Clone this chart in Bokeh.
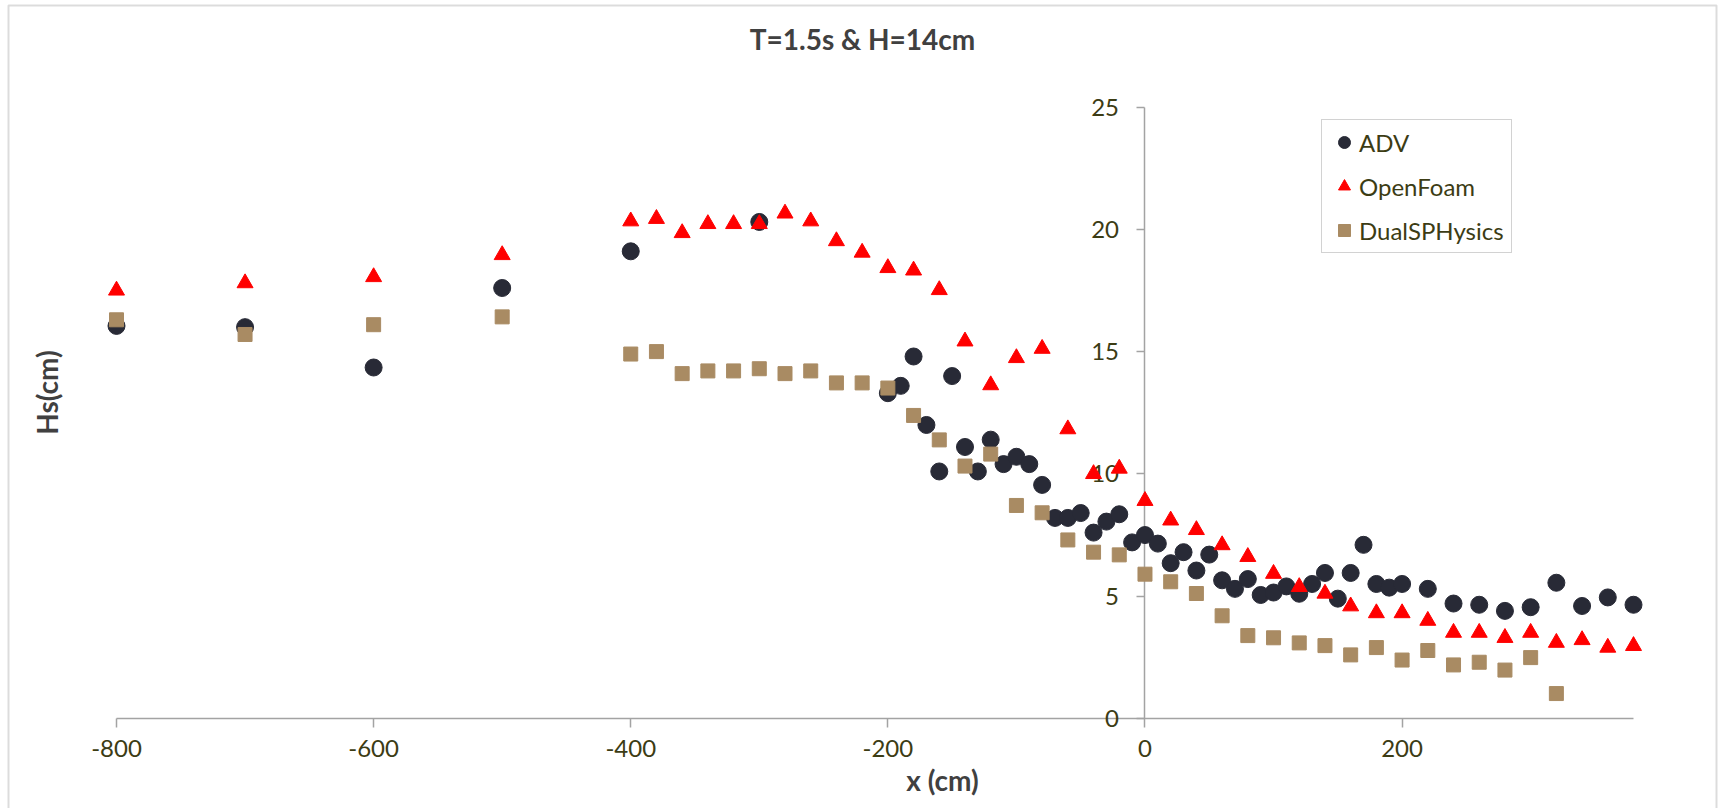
from bokeh.plotting import figure
from bokeh.models import (Range1d, FixedTicker, Legend, LegendItem, Label, BoxAnnotation,
                          LinearAxis, PrintfTickFormatter)
from bokeh.embed import file_html
from bokeh.resources import INLINE

# ---------------- data ----------------
adv_x = [-800, -700, -600, -500, -400, -300, -200, -190, -180, -170, -160, -150, -140, -130,
         -120, -110, -100, -90, -80, -70, -60, -50, -40, -30, -20, -10, 0, 10, 20, 30, 40,
         50, 60, 70, 80, 90, 100, 110, 120, 130, 140, 150, 160, 170, 180, 190, 200, 220,
         240, 260, 280, 300, 320, 340, 360, 380]
adv_y = [16.05, 16.0, 14.35, 17.6, 19.1, 20.3, 13.3, 13.6, 14.8, 12.0, 10.1, 14.0, 11.1, 10.1,
         11.4, 10.4, 10.7, 10.4, 9.55, 8.2, 8.2, 8.4, 7.6, 8.05, 8.35, 7.2, 7.5, 7.15, 6.35, 6.8, 6.05,
         6.7, 5.65, 5.3, 5.7, 5.05, 5.15, 5.4, 5.1, 5.5, 5.95, 4.9, 5.95, 7.1, 5.5, 5.35, 5.5, 5.3,
         4.7, 4.65, 4.4, 4.55, 5.55, 4.6, 4.95, 4.65]

of_x = [-800, -700, -600, -500, -400, -380, -360, -340, -320, -300, -280, -260, -240, -220,
        -200, -180, -160, -140, -120, -100, -80, -60, -40, -20, 0, 20, 40, 60, 80, 100, 120,
        140, 160, 180, 200, 220, 240, 260, 280, 300, 320, 340, 360, 380]
of_y = [17.5, 17.8, 18.05, 18.95, 20.33, 20.43, 19.85, 20.22, 20.22, 20.22, 20.65, 20.33, 19.52,
        19.05, 18.42, 18.32, 17.52, 15.42, 13.63, 14.74, 15.12, 11.83, 10.0, 10.22, 8.9, 8.1,
        7.71, 7.09, 6.61, 5.92, 5.38, 5.11, 4.59, 4.31, 4.31, 4.0, 3.51, 3.51, 3.3, 3.51, 3.1,
        3.21, 2.9, 2.97]

sph_x = [-800, -700, -600, -500, -400, -380, -360, -340, -320, -300, -280, -260, -240, -220,
         -200, -180, -160, -140, -120, -100, -80, -60, -40, -20, 0, 20, 40, 60, 80, 100, 120,
         140, 160, 180, 200, 220, 240, 260, 280, 300, 320]
sph_y = [16.3, 15.7, 16.1, 16.42, 14.9, 15.0, 14.1, 14.21, 14.21, 14.3, 14.1, 14.21, 13.72, 13.72,
         13.51, 12.39, 11.39, 10.32, 10.81, 8.71, 8.41, 7.3, 6.8, 6.69, 5.9, 5.59, 5.11, 4.2, 3.39,
         3.3, 3.09, 2.98, 2.6, 2.9, 2.39, 2.78, 2.19, 2.3, 1.98, 2.49, 1.02]

x_ticks = [-800, -600, -400, -200, 0, 200]
y_ticks = [0, 5, 10, 15, 20, 25]
x_bounds = (-800, 380)
y_bounds = (0, 25)
series_names = ["ADV", "OpenFoam", "DualSPHysics"]
title_text = "T=1.5s & H=14cm"
x_title = "x (cm)"
y_title = "Hs(cm)"

# ---------------- layout (pixels) ----------------
W, H = 1721, 808
PX_L, PX_R = 116, 1633      # screen x of x_bounds
PX_B, PX_T = 718, 106.5     # screen y (from top) of y_bounds
sx_per = (PX_R - PX_L) / (x_bounds[1] - x_bounds[0])
sy_per = (PX_B - PX_T) / (y_bounds[1] - y_bounds[0])
x_range = Range1d(x_bounds[0] - PX_L / sx_per, x_bounds[1] + (W - PX_R) / sx_per)
y_range = Range1d(y_bounds[0] - (H - PX_B) / sy_per, y_bounds[1] + PX_T / sy_per)

FONT = "Lato"
OLIVE = "#3c3c14"
AXIS_COL = "#a3a3a3"

p = figure(frame_width=W, frame_height=H, output_backend="svg", toolbar_location=None,
           x_range=x_range, y_range=y_range, min_border=0,
           x_axis_location=None, y_axis_location=None, title=None)
p.outline_line_color = None
p.xgrid.visible = False
p.ygrid.visible = False
p.background_fill_color = "white"
p.border_fill_color = "white"

xaxis = LinearAxis(fixed_location=0, bounds=x_bounds, ticker=FixedTicker(ticks=x_ticks))
yaxis = LinearAxis(fixed_location=0, bounds=y_bounds, ticker=FixedTicker(ticks=y_ticks))
for ax in (xaxis, yaxis):
    ax.formatter = PrintfTickFormatter(format="%d")
    ax.axis_line_color = AXIS_COL
    ax.axis_line_width = 1.5
    ax.major_tick_line_color = AXIS_COL
    ax.major_tick_line_width = 1.5
    ax.major_tick_in = 0
    ax.minor_tick_line_color = None
    ax.major_label_text_font = FONT
    ax.major_label_text_font_size = "24px"
    ax.major_label_text_color = OLIVE
    ax.level = "underlay"
xaxis.major_tick_out = 9
xaxis.major_label_standoff = 12
yaxis.major_tick_out = 8
yaxis.major_label_standoff = 18
p.add_layout(xaxis, "below")
p.add_layout(yaxis, "left")

r1 = p.scatter(adv_x, adv_y, marker="circle", size=17, fill_color="#282a36", line_color="#282a36")
r2 = p.scatter(of_x, of_y, marker="triangle", size=16, fill_color="#ff0000", line_color="#ff0000")
r3 = p.scatter(sph_x, sph_y, marker="square", size=14, fill_color="#a98b63", line_color="#a98b63")

legend = Legend(items=[LegendItem(label=series_names[0], renderers=[r1]),
                       LegendItem(label=series_names[1], renderers=[r2]),
                       LegendItem(label=series_names[2], renderers=[r3])],
                location=(1321, H - 253), margin=0, padding=7, spacing=14,
                glyph_width=30, glyph_height=30, label_standoff=0,
                label_text_font=FONT, label_text_font_size="24px", label_text_color=OLIVE,
                border_line_color="#a6a6a6", border_line_width=1.5,
                background_fill_color="white", background_fill_alpha=1.0)
p.add_layout(legend)

p.add_layout(Label(x=862, y=H - 38, x_units="screen", y_units="screen", text=title_text,
                   text_font=FONT, text_font_size="28px", text_font_style="bold",
                   text_color="#404040", text_align="center", text_baseline="middle"))
p.add_layout(Label(x=942, y=H - 779, x_units="screen", y_units="screen", text=x_title,
                   text_font=FONT, text_font_size="28px", text_font_style="bold",
                   text_color="#404040", text_align="center", text_baseline="middle"))
p.add_layout(Label(x=46, y=H - 392, x_units="screen", y_units="screen", text=y_title,
                   angle=1.5707963, text_font=FONT, text_font_size="28px", text_font_style="bold",
                   text_color="#404040", text_align="center", text_baseline="middle"))

p.add_layout(BoxAnnotation(left=8, right=1716, top=H - 5, bottom=-6,
                           left_units="screen", right_units="screen", top_units="screen",
                           bottom_units="screen", fill_alpha=0, line_color="#8c8c8c",
                           line_width=2, level="underlay"))

open("out.html", "w").write(file_html(p, INLINE))
